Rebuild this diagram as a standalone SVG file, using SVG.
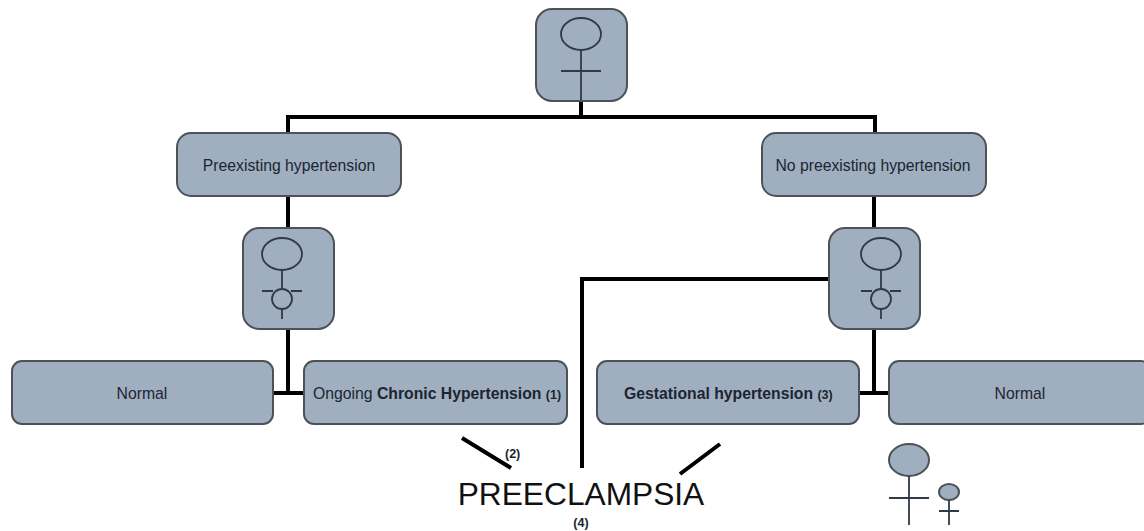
<svg xmlns="http://www.w3.org/2000/svg" width="1144" height="531" viewBox="0 0 1144 531">
<style>
text{font-family:"Liberation Sans",Arial,sans-serif;fill:#1c2530}
.box{fill:#9fafc0;stroke:#4c5257;stroke-width:2}
.sym{fill:none;stroke:#2f3a46;stroke-width:1.8}
.con{fill:none;stroke:#000;stroke-width:4}
.lbl{font-size:15.75px;text-anchor:middle}
.n{font-size:12.5px;font-weight:bold}
.b{font-weight:bold}
</style>
<rect width="1144" height="531" fill="#fff"/>
<g id="connectors">
<path class="con" d="M581 100V117M288 132V117H875V132"/>
<path class="con" d="M288 196V228M288 329V393M273 393H304"/>
<path class="con" d="M874 196V228M874 329V393M859 393H889"/>
<path class="con" d="M829 279H582V468"/>
<path class="con" d="M462 438L511 468M720 444L680 474"/>
</g>
<g id="node-top"><rect class="box" x="536" y="9" width="91" height="92" rx="16"/>
<ellipse class="sym" cx="581" cy="34" rx="20" ry="16"/><path class="sym" d="M581 50V100M561 71H601"/></g>
<g id="node-preexisting"><rect class="box" x="177" y="133" width="224" height="63" rx="14"/>
<text class="lbl" x="289" y="171">Preexisting hypertension</text></g>
<g id="node-no-preexisting"><rect class="box" x="762" y="133" width="224" height="63" rx="14"/>
<text class="lbl" x="873" y="171">No preexisting hypertension</text></g>
<g id="node-pregnant-left"><rect class="box" x="243" y="228" width="91" height="101" rx="16"/>
<ellipse class="sym" cx="282" cy="254" rx="20" ry="16"/><circle class="sym" cx="282" cy="299" r="10"/><path class="sym" d="M282 270V289M262 291H273M291 291H302M282 309V319"/></g>
<g id="node-pregnant-right"><rect class="box" x="829" y="228" width="91" height="101" rx="16"/>
<ellipse class="sym" cx="881" cy="254" rx="20" ry="16"/><circle class="sym" cx="881" cy="299" r="10"/><path class="sym" d="M881 270V289M861 291H872M890 291H901M881 309V319"/></g>
<g id="node-normal-left"><rect class="box" x="12" y="361" width="261" height="63" rx="10"/>
<text class="lbl" x="142" y="399">Normal</text></g>
<g id="node-chronic"><rect class="box" x="304" y="361" width="263" height="63" rx="10"/>
<text x="313" y="399" font-size="15.75">Ongoing <tspan class="b">Chronic Hypertension</tspan> <tspan class="n">(1)</tspan></text></g>
<g id="node-gestational"><rect class="box" x="597" y="361" width="262" height="63" rx="10"/>
<text x="624" y="399" font-size="15.75"><tspan class="b">Gestational hypertension</tspan> <tspan class="n">(3)</tspan></text></g>
<g id="node-normal-right"><rect class="box" x="889" y="361" width="262" height="63" rx="10"/>
<text class="lbl" x="1020" y="399">Normal</text></g>
<g id="node-preeclampsia">
<text x="581" y="505" font-size="31.7" text-anchor="middle" style="fill:#111">PREECLAMPSIA</text>
<text class="n" x="505" y="458">(2)</text>
<text class="n" x="581" y="527" text-anchor="middle">(4)</text></g>
<g id="node-women">
<ellipse class="box" cx="909" cy="460" rx="20" ry="16"/><path class="sym" d="M909 476V525M889 498H929"/>
<ellipse class="box" cx="949" cy="492" rx="10" ry="8"/><path class="sym" d="M949 500V525M939 511H959"/></g>
</svg>
